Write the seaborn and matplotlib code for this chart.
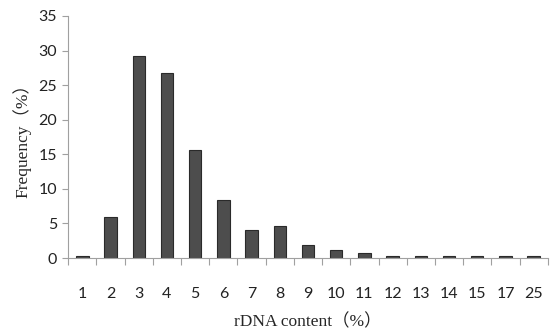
import matplotlib
matplotlib.use("Agg")
import matplotlib.pyplot as plt
import numpy as np
import pandas as pd
import seaborn as sns

categories = ["1", "2", "3", "4", "5", "6", "7", "8", "9", "10", "11", "12", "13", "14", "15", "17", "25"]
frequency = [0.3, 6.0, 29.2, 26.7, 15.6, 8.4, 4.1, 4.6, 1.9, 1.1, 0.8, 0.3, 0.3, 0.3, 0.3, 0.3, 0.3]
y_ticks = [0, 5, 10, 15, 20, 25, 30, 35]

df = pd.DataFrame({"content": categories, "freq": frequency})

sns.set_theme(style="white")
plt.rcParams["font.family"] = ["Lato", "DejaVu Sans"]

fig = plt.figure(figsize=(5.5, 3.33), dpi=100)
ax = fig.add_axes([0.124, 0.225, 0.872, 0.727])

sns.barplot(data=df, x="content", y="freq", order=categories, color="#4d4d4d",
            width=0.44, edgecolor="#2a2a2a", linewidth=0.8, saturation=1, ax=ax)

ax.set_ylim(0, 35)
ax.set_yticks(y_ticks)
ax.set_xlim(-0.5, len(categories) - 0.5)

for s in ["top", "right"]:
    ax.spines[s].set_visible(False)
for s in ["left", "bottom"]:
    ax.spines[s].set_color("#a0a0a0")
    ax.spines[s].set_linewidth(0.8)

ax.tick_params(axis="y", left=True, length=4, width=0.8, color="#a0a0a0",
               labelsize=11.5, labelcolor="#222222", pad=4)
ax.tick_params(axis="x", bottom=False, labelsize=11.5, labelcolor="#222222", pad=15)
ax.set_xticks(np.arange(-0.5, len(categories)), minor=True)
ax.tick_params(axis="x", which="minor", bottom=True, length=5, width=0.8,
               color="#a0a0a0", direction="out")

serif = ["Liberation Serif", "Noto Sans CJK SC"]
ax.set_xlabel("rDNA content（%）", family=serif, fontsize=12.5, labelpad=9)
ax.set_ylabel("Frequency（%）", family=serif, fontsize=12.5, labelpad=5)

fig.savefig("out.png", dpi=100)
